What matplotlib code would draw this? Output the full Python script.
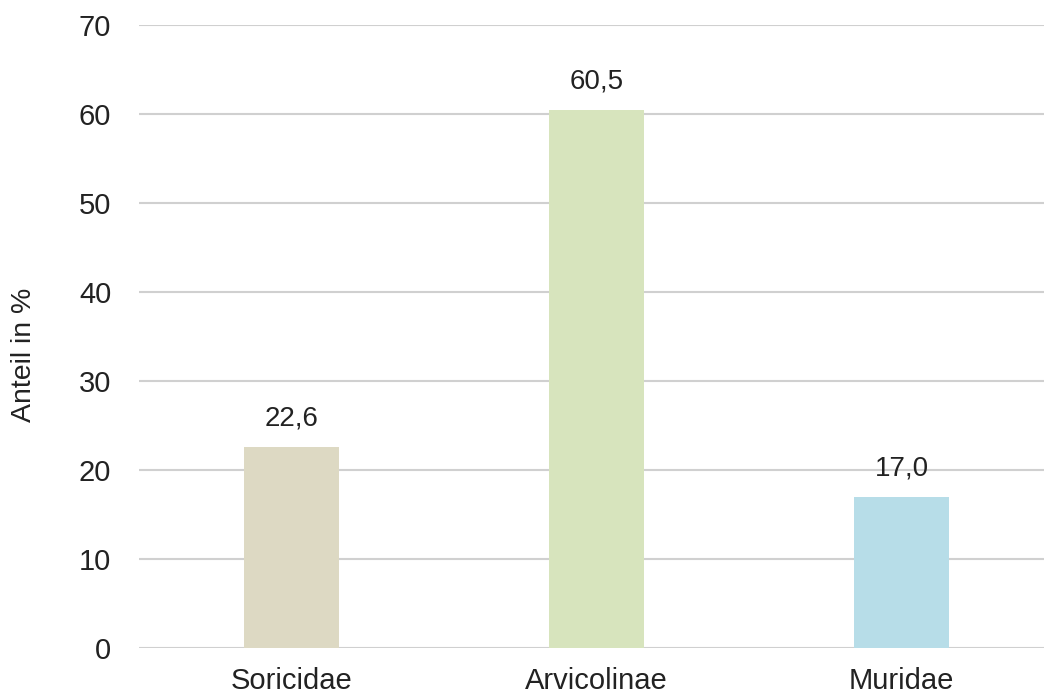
import matplotlib.pyplot as plt

# Anteile der Kleinsäuger-Gruppen
gruppen = ["Soricidae", "Arvicolinae", "Muridae"]
anteil = [22.6, 60.5, 17.0]
farben = ["#DDD9C3", "#D7E4BD", "#B7DDE8"]
yticks = [0, 10, 20, 30, 40, 50, 60, 70]

plt.rcParams['font.family'] = ['Liberation Sans', 'DejaVu Sans']

fig = plt.figure(figsize=(10.44, 6.97), dpi=100)
ax = fig.add_axes([139 / 1044, 1 - 648 / 697, 1 - 139 / 1044, (648 - 25) / 697])

x = range(len(gruppen))
bars = ax.bar(x, anteil, width=0.31, color=farben, zorder=3)

for b, v in zip(bars, anteil):
    ax.annotate(f"{v:.1f}".replace(".", ","), (b.get_x() + b.get_width() / 2, v),
                xytext=(0, 11), textcoords="offset points",
                ha="center", va="bottom", fontsize=20, color="#222222")

ax.set_xlim(-0.5, 2.5 - 10 / 305)
ax.set_ylim(0, 70)
ax.set_yticks(yticks)
ax.set_yticklabels([str(t) for t in yticks], fontsize=21, color="#222222")
ax.set_xticks(list(x))
ax.set_xticklabels(gruppen, fontsize=21, color="#222222")
ax.tick_params(axis="both", length=0)
ax.tick_params(axis="y", pad=20)
ax.tick_params(axis="x", pad=14)

ax.yaxis.grid(True, color="#d0d0d0", linewidth=1.5, zorder=0)
for s in ax.spines.values():
    s.set_visible(False)

ax.set_ylabel("Anteil in %", fontsize=20.5, color="#222222")
ax.yaxis.set_label_coords(-0.113, 0.47)

fig.savefig("out.png", dpi=100)
